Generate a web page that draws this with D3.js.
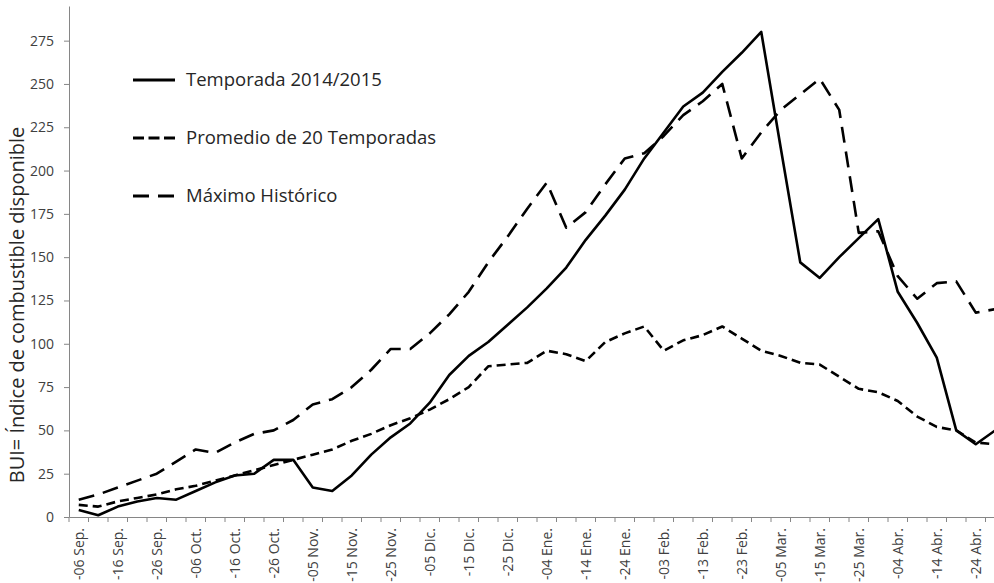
<!DOCTYPE html>
<html>
<head>
<meta charset="utf-8">
<script src="https://cdn.jsdelivr.net/npm/d3@7"></script>
<style>
  body { margin: 0; background: #fff; }
  svg { display: block; }
  text { font-family: "Open Sans", sans-serif; }
</style>
</head>
<body>
<div id="chart"></div>
<script>
// categories every 5 days, Sep 2014 -> Apr 2015
const categories = [
  "06 Sep.", "11 Sep.", "16 Sep.", "21 Sep.", "26 Sep.",
  "01 Oct.", "06 Oct.", "11 Oct.", "16 Oct.", "21 Oct.", "26 Oct.", "31 Oct.",
  "05 Nov.", "10 Nov.", "15 Nov.", "20 Nov.", "25 Nov.", "30 Nov.",
  "05 Dic.", "10 Dic.", "15 Dic.", "20 Dic.", "25 Dic.", "30 Dic.",
  "04 Ene.", "09 Ene.", "14 Ene.", "19 Ene.", "24 Ene.", "29 Ene.",
  "03 Feb.", "08 Feb.", "13 Feb.", "18 Feb.", "23 Feb.", "28 Feb.",
  "05 Mar.", "10 Mar.", "15 Mar.", "20 Mar.", "25 Mar.", "30 Mar.",
  "04 Abr.", "09 Abr.", "14 Abr.", "19 Abr.", "24 Abr.", "29 Abr."
];
// labelled categories (every 10 days)
const tickLabels = [
  "06 Sep.", "16 Sep.", "26 Sep.", "06 Oct.", "16 Oct.", "26 Oct.",
  "05 Nov.", "15 Nov.", "25 Nov.", "05 Dic.", "15 Dic.", "25 Dic.",
  "04 Ene.", "14 Ene.", "24 Ene.", "03 Feb.", "13 Feb.", "23 Feb.",
  "05 Mar.", "15 Mar.", "25 Mar.", "04 Abr.", "14 Abr.", "24 Abr."
];
const yTicks = [0, 25, 50, 75, 100, 125, 150, 175, 200, 225, 250, 275];

const temporada = [4, 1, 6, 9, 11, 10, 15, 20, 24, 25, 33, 33, 17, 15, 24, 36, 46, 54, 66, 82,
  93, 101, 111, 121, 132, 144, 160, 174, 189, 207, 222, 237, 245, 257, 268, 280, 213, 147, 138, 150,
  161, 172, 130, 112, 92, 50, 42, 50];
const promedio = [7, 6, 9, 11, 13, 16, 18, 21, 24, 27, 30, 33, 36, 39, 44, 48, 53, 57, 62, 68,
  75, 87, 88, 89, 96, 94, 90, 101, 106, 110, 96, 102, 105, 110, 103, 96, 93, 89, 88, 81,
  74, 72, 67, 58, 52, 50, 43, 42];
const maximo = [10, 13, 17, 21, 25, 32, 39, 37, 43, 48, 50, 56, 65, 68, 75, 85, 97, 97, 106, 117,
  130, 147, 162, 178, 193, 167, 176, 192, 207, 210, 220, 232, 240, 250, 207, 222, 235, 244, 253, 235,
  164, 165, 139, 126, 135, 136, 118, 120];

const width = 994, height = 583;
const axisColor = "#868686", textColor = "#404040";

const svg = d3.select("#chart")
  .append("svg")
    .attr("width", width)
    .attr("height", height);

const x = d3.scaleBand()
  .domain(categories)
  .range([69, 69 + 19.5 * categories.length]);

const y = d3.scaleLinear()
  .domain([0, 295])
  .range([517, 6]);

// y axis
const yAxis = svg.append("g")
  .attr("transform", "translate(69,0)")
  .call(d3.axisLeft(y).tickValues(yTicks).tickSize(5).tickSizeOuter(0).tickPadding(10));
yAxis.select(".domain").attr("stroke", axisColor);
yAxis.selectAll(".tick line").attr("stroke", axisColor);
yAxis.selectAll(".tick text")
  .attr("fill", textColor)
  .style("font-size", "14px");

// x axis
const xAxis = svg.append("g")
  .attr("transform", "translate(0,517)")
  .call(d3.axisBottom(x).tickValues(tickLabels).tickSize(0).tickSizeOuter(0));
xAxis.select(".domain").attr("stroke", axisColor);
xAxis.selectAll(".tick text")
  .text(d => "-" + d)
  .attr("transform", "rotate(-90)")
  .attr("x", -11)
  .attr("y", 0)
  .attr("dy", "0.35em")
  .style("text-anchor", "end")
  .style("font-size", "14px")
  .attr("fill", textColor);

// tick marks between categories
xAxis.selectAll(".cat-tick")
  .data(categories)
  .enter()
  .append("line")
    .attr("x1", d => x(d))
    .attr("x2", d => x(d))
    .attr("y1", 0)
    .attr("y2", 5)
    .attr("stroke", axisColor);

// y axis title
svg.append("text")
  .attr("transform", "translate(24,305) rotate(-90)")
  .attr("text-anchor", "middle")
  .style("font-size", "20px")
  .attr("fill", "#262626")
  .text("BUI= Índice de combustible disponible");

const line = d3.line()
  .x((d, i) => x(categories[i]) + x.bandwidth() / 2)
  .y(d => y(d));

const series = [
  { name: "Temporada 2014/2015", values: temporada, dash: null },
  { name: "Promedio de 20 Temporadas", values: promedio, dash: "9,5" },
  { name: "Máximo Histórico", values: maximo, dash: "16,9" }
];

svg.selectAll(".serie")
  .data(series)
  .enter()
  .append("path")
    .attr("class", "serie")
    .attr("d", d => line(d.values))
    .attr("fill", "none")
    .attr("stroke", "#000")
    .attr("stroke-width", 2.6)
    .attr("stroke-linejoin", "round")
    .attr("stroke-dasharray", d => d.dash);

// legend
const legendY = [80, 138, 196];
const legend = svg.selectAll(".legend")
  .data(series)
  .enter()
  .append("g")
    .attr("transform", (d, i) => `translate(133,${legendY[i]})`);

legend.append("line")
  .attr("x1", 0)
  .attr("x2", 42)
  .attr("stroke", "#000")
  .attr("stroke-width", 3)
  .attr("stroke-dasharray", (d, i) => i == 1 ? "11,4.5" : d.dash);

legend.append("text")
  .attr("x", 53)
  .attr("dy", "0.35em")
  .style("font-size", "18.5px")
  .attr("fill", "#262626")
  .text(d => d.name);
</script>
</body>
</html>
